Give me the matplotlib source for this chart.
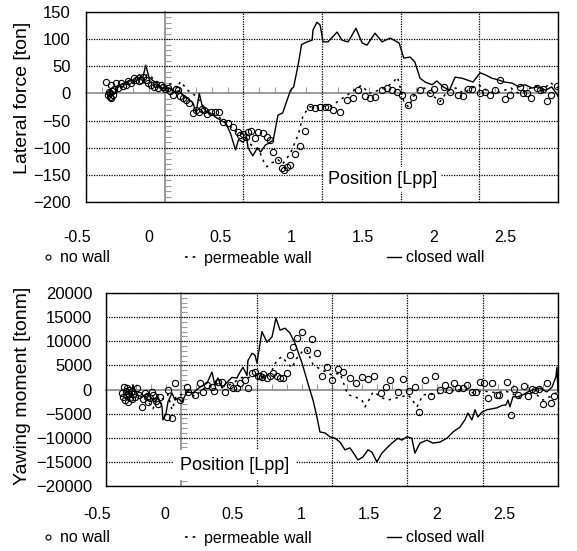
import matplotlib
matplotlib.use("Agg")
import matplotlib.pyplot as plt
from matplotlib.ticker import MultipleLocator, FixedLocator, NullFormatter
from matplotlib.lines import Line2D

plt.rcParams["font.family"] = ["Liberation Sans", "DejaVu Sans"]

# ---------------- data: lateral force [ton] ----------------
lat_nowall_x = [-0.373, -0.36, -0.355, -0.35, -0.345, -0.34, -0.335, -0.341, -0.33, -0.325,
                -0.309, -0.295, -0.278, -0.262, -0.246, -0.23, -0.214, -0.198, -0.182, -0.166,
                -0.15, -0.135, -0.119, -0.103, -0.087, -0.068, -0.055, -0.042, -0.025, -0.01,
                0.005, 0.021, 0.037, 0.053, 0.07, 0.085, 0.10, 0.117, 0.136, 0.155,
                0.18, 0.20, 0.218, 0.235, 0.25, 0.27, 0.295, 0.32, 0.345, 0.371,
                0.403, 0.435, 0.466, 0.479, 0.498, 0.515, 0.53, 0.55, 0.574, 0.593,
                0.625, 0.651, 0.67, 0.689, 0.72, 0.746, 0.76, 0.778, 0.797, 0.829,
                0.86, 0.892, 0.924, 0.956, 0.988, 1.019, 1.038, 1.07, 1.115, 1.159,
                1.197, 1.229, 1.274, 1.305, 1.337, 1.382, 1.414, 1.445, 1.477, 1.509,
                1.547, 1.579, 1.623, 1.687, 1.712, 1.75, 1.776, 1.814, 1.865, 1.897,
                1.929, 1.954, 2.005, 2.037, 2.068, 2.1, 2.132, 2.164, 2.195, 2.259,
                2.278, 2.304, 2.329, 2.367, 2.386, 2.405, 2.431, 2.456, 2.494]
lat_nowall_y = [21, -3, 3, -6, 0, -8, 5, 16, -2, 8,
                19, 10, 19, 14, 16, 22, 20, 28, 25, 22,
                25, 30, 25, 20, 16, 12, 18, 10, 15, 12,
                8, 10, 5, -3, 8, 6, -5, -9, -12, -18,
                -36, -30, -34, -28, -30, -38, -34, -34, -34, -53,
                -55, -62, -71, -77, -75, -80, -71, -70, -82, -71,
                -73, -80, -86, -108, -123, -137, -141, -135, -132, -112,
                -97, -69, -25, -27, -25, -25, -25, -31, -34, -12,
                -9, 6, -5, -9, -7, 6, 10, 6, 2, -3,
                -21, -7, 6, 0, 8, -14, 12, 2, -3, -5,
                8, 8, 0, 2, -3, 6, 25, -10, -3, 12,
                0, 0, -9, 10, 6, 8, -14, -3, 14]

lat_perm_x = [-0.36, -0.33, -0.30, -0.25, -0.20, -0.15, -0.10, -0.05, 0.00, 0.05,
              0.08, 0.10, 0.15, 0.20, 0.25, 0.30, 0.35, 0.40, 0.45, 0.50,
              0.55, 0.60, 0.63, 0.65, 0.68, 0.72, 0.75, 0.80, 0.85, 0.88,
              0.92, 0.98, 1.05, 1.10, 1.15, 1.20, 1.25, 1.30, 1.35, 1.40,
              1.45, 1.48, 1.52, 1.55, 1.60, 1.65, 1.70, 1.75, 1.80, 1.85,
              1.90, 1.95, 2.00, 2.05, 2.10, 2.15, 2.20, 2.25, 2.30, 2.35,
              2.40, 2.45, 2.50]
lat_perm_y = [-10, -15, 5, 15, 25, 30, 35, 20, 15, 18,
              10, 22, 5, -5, -25, -35, -45, -55, -70, -75,
              -95, -105, -126, -135, -128, -122, -130, -110, -75, -40,
              -25, -22, -25, -15, -5, 5, 15, 0, 5, 10,
              20, 30, -15, -25, 5, 10, -3, -15, 5, 10,
              0, 10, 15, 5, 0, 5, 10, 0, 5, 15,
              5, 20, 10]

lat_closed_x = [-0.36, -0.34, -0.32, -0.30, -0.28, -0.25, -0.22, -0.20, -0.18, -0.16,
                -0.14, -0.12, -0.10, -0.08, -0.05, -0.02, 0.00, 0.03, 0.06, 0.09,
                0.12, 0.15, 0.18, 0.20, 0.22, 0.24, 0.27, 0.30, 0.33, 0.36,
                0.39, 0.42, 0.45, 0.47, 0.50, 0.52, 0.53, 0.56, 0.59, 0.61,
                0.64, 0.66, 0.69, 0.72, 0.75, 0.80, 0.82, 0.85, 0.87, 0.905,
                0.937, 0.943, 0.968, 0.988, 1.007, 1.038, 1.096, 1.127, 1.166, 1.216,
                1.255, 1.286, 1.337, 1.382, 1.433, 1.477, 1.49, 1.52, 1.56, 1.59,
                1.623, 1.655, 1.70, 1.73, 1.77, 1.81, 1.846, 1.89, 1.92, 1.96,
                2.005, 2.04, 2.08, 2.12, 2.16, 2.21, 2.25, 2.29, 2.335, 2.37,
                2.42, 2.46, 2.49, 2.50]
lat_closed_y = [-5, 5, 0, 10, 15, 20, 25, 18, 30, 35,
                28, 52, 30, 25, 18, 10, 8, 10, 2, 5,
                -5, -10, -18, -35, 0, -25, -35, -38, -45, -50,
                -55, -75, -104, -85, -90, -80, -100, -115, -100, -108,
                -95, -92, -86, -40, -36, 6, 12, 55, 90, 95,
                98, 117, 131, 126, 95, 95, 113, 98, 95, 120,
                93, 89, 111, 95, 102, 95, 93, 65, 67, 58,
                28, 21, 16, 23, 12, 6, 30, 28, 25, 21,
                38, 34, 28, 25, 21, 19, 12, 16, 10, 12,
                6, 12, 0, -5]

# ---------------- data: yawing moment [tonm] ----------------
yaw_nowall_x = [-0.394, -0.387, -0.38, -0.374, -0.37, -0.365, -0.36, -0.355, -0.35, -0.345,
                -0.34, -0.334, -0.328, -0.32, -0.31, -0.294, -0.28, -0.261, -0.254, -0.241,
                -0.228, -0.221, -0.208, -0.195, -0.188, -0.17, -0.155, -0.14, -0.095, -0.062,
                -0.089, -0.042, -0.009, 0.037, 0.044, 0.091, 0.124, 0.144, 0.17, 0.203,
                0.22, 0.243, 0.27, 0.29, 0.323, 0.343, 0.369, 0.389, 0.422, 0.442,
                0.469, 0.489, 0.509, 0.522, 0.535, 0.542, 0.568, 0.588, 0.608, 0.635,
                0.655, 0.675, 0.701, 0.721, 0.741, 0.767, 0.801, 0.834, 0.867, 0.900,
                0.933, 0.967, 1.000, 1.040, 1.073, 1.119, 1.159, 1.199, 1.239, 1.278,
                1.325, 1.358, 1.385, 1.438, 1.471, 1.511, 1.550, 1.577, 1.617, 1.657,
                1.683, 1.716, 1.750, 1.776, 1.809, 1.836, 1.869, 1.896, 1.929, 1.955,
                1.982, 2.008, 2.035, 2.061, 2.095, 2.108, 2.161, 2.187, 2.207, 2.234,
                2.274, 2.300, 2.327, 2.347, 2.373, 2.400, 2.426, 2.453, 2.473]
yaw_nowall_y = [-700, -1500, 500, -2200, -300, -1200, 300, -2600, -1000, 0,
                -1800, -500, -2000, -1000, -1500, 300, -1200, -3600, -2000, -700,
                -1500, -2600, -1800, -500, -1100, -2400, -3000, -1500, -5700, -5900,
                -100, 1300, -2200, 500, -500, -1100, 1300, -500, 900, 500,
                -300, 1500, 1500, -500, 900, 300, 300, 1300, 1900, 300,
                3400, 3600, 2900, 2700, 2500, 3200, 2400, 2900, 3400, 2900,
                2400, 2400, 3400, 7100, 8800, 10700, 11900, 8200, 10500, 7600,
                2700, 4700, 1900, 4300, 3600, 2400, 1300, 2500, 2200, 2700,
                -700, 500, 1900, -500, 2200, -300, 500, -4700, 1900, -1300,
                2900, -100, 900, 0, 1300, 300, 300, 900, -500, -500,
                1500, 1300, -1800, 1300, -1100, -1100, 1500, -5200, 100, -1100,
                700, -1300, 100, 0, 100, -3000, 1300, -2800, -1300]

yaw_perm_x = [-0.354, -0.321, -0.288, -0.254, -0.221, -0.188, -0.155, -0.122, -0.089, -0.062,
              -0.036, 0.004, 0.044, 0.091, 0.137, 0.190, 0.243, 0.296, 0.349, 0.402,
              0.456, 0.509, 0.555, 0.602, 0.635, 0.668, 0.701, 0.734, 0.767, 0.801,
              0.834, 0.854, 0.874, 0.907, 0.933, 0.967, 1.000, 1.053, 1.086, 1.106,
              1.152, 1.199, 1.219, 1.252, 1.272, 1.305, 1.338, 1.371, 1.418, 1.464,
              1.504, 1.530, 1.564, 1.604, 1.650, 1.716, 1.763, 1.829, 1.896, 1.935,
              2.002, 2.048, 2.095, 2.148, 2.194, 2.247, 2.300, 2.360, 2.400, 2.446,
              2.499]
yaw_perm_y = [-500, 500, -1500, -800, -2500, -4000, -1000, -2000, -1000, -4200,
              -1500, -1000, -500, -1500, 0, 800, 1200, 500, 1500, 2500,
              2500, 3000, 2500, 4000, 6100, 6800, 5500, 4500, 6500, 7800,
              8200, 6600, 5200, 4500, 4100, 3500, 3000, 3400, 500, -1100,
              -1500, -2200, -3600, -1800, -500, -1100, -1800, -2200, -1800, -1500,
              -1100, -2000, -3600, -1100, -1000, -800, -500, -100, 0, -700,
              -300, -500, -700, -300, -800, -1800, -500, -1100, -2200, -1500,
              -500]

yaw_closed_x = [-0.354, -0.334, -0.321, -0.294, -0.261, -0.228, -0.195, -0.175, -0.155, -0.128,
                -0.122, -0.102, -0.089, -0.062, -0.042, -0.022, 0.004, 0.037, 0.077, 0.124,
                0.170, 0.203, 0.223, 0.243, 0.270, 0.303, 0.336, 0.369, 0.389, 0.409,
                0.436, 0.442, 0.469, 0.489, 0.502, 0.535, 0.568, 0.602, 0.628, 0.655,
                0.688, 0.721, 0.754, 0.801, 0.840, 0.874, 0.900, 0.920, 0.953, 0.986,
                1.020, 1.053, 1.086, 1.119, 1.152, 1.172, 1.205, 1.239, 1.265, 1.298,
                1.331, 1.371, 1.398, 1.438, 1.464, 1.497, 1.530, 1.550, 1.584, 1.630,
                1.670, 1.716, 1.763, 1.803, 1.849, 1.882, 1.902, 1.929, 1.949, 1.968,
                1.995, 2.028, 2.061, 2.095, 2.128, 2.154, 2.168, 2.181, 2.201, 2.234,
                2.267, 2.300, 2.333, 2.380, 2.426, 2.460, 2.486, 2.493, 2.500]
yaw_closed_y = [0, -1500, 1000, -1100, -1500, -800, -2000, -2600, -1500, -3600,
                -6300, -5000, -2600, -700, -2200, -1800, -2600, -500, -700, 500,
                1300, 3600, 900, 2400, 300, 1500, 2500, 2400, 3600, 4600,
                2900, 6000, 7500, 7100, 5500, 12000, 9800, 10900, 14800, 12300,
                12700, 11700, 9600, 5500, 1300, -2200, -5700, -8800, -9000, -9800,
                -10100, -10900, -12500, -12100, -13600, -14600, -14000, -12500, -13000, -15000,
                -13200, -11900, -11100, -10100, -10500, -9800, -10100, -13200, -11100, -10500,
                -11100, -10900, -10100, -8800, -7800, -6300, -4900, -6300, -4200, -5700,
                -4700, -4200, -4000, -3800, -3300, -3200, -2200, -3600, -1500, -1500,
                -1100, -500, -100, 300, -500, 500, 2600, 4600, -500]

x_ticks = [-0.5, 0, 0.5, 1, 1.5, 2, 2.5]
x_tick_labels = ["-0.5", "0", "0.5", "1", "1.5", "2", "2.5"]
lat_ticks = [150, 100, 50, 0, -50, -100, -150, -200]
yaw_ticks = [20000, 15000, 10000, 5000, 0, -5000, -10000, -15000, -20000]

legend_labels = ["no wall", "permeable wall", "closed wall"]
ylabel_lat = "Lateral force [ton]"
ylabel_yaw = "Yawing moment [tonm]"
xlabel_text = "Position [Lpp]"

# ---------------- layout helpers ----------------
W, H = 577, 551
fig = plt.figure(figsize=(W / 100, H / 100), dpi=100)
fig.patch.set_facecolor("white")


def rect_px(left, top, right, bottom):
    return [left / W, 1 - bottom / H, (right - left) / W, (bottom - top) / H]


GRAY = "#9a9a9a"
DOT = (0, (1, 1))
PERM_LS = (0, (1.6, 3.0))


def draw_panel(box, lab_left, lab_right, lab_y, ylim, yticks, yminor, ypad,
               nowall, perm, closed, ylabel, ylabel_px, pos_xy, pos_pad, legend_y):
    # zero axes with small tick marks
    az = fig.add_axes(rect_px(*box))
    az.set_xlim(-0.5, 2.5)
    az.set_ylim(*ylim)
    az.patch.set_visible(False)
    az.spines["top"].set_visible(False)
    az.spines["right"].set_visible(False)
    az.spines["left"].set_position(("data", 0))
    az.spines["bottom"].set_position(("data", 0))
    for s in ("left", "bottom"):
        az.spines[s].set_color(GRAY)
        az.spines[s].set_linewidth(1.4)
    az.xaxis.set_major_locator(MultipleLocator(0.1))
    az.yaxis.set_major_locator(MultipleLocator(yminor))
    az.tick_params(direction="in", length=4, width=0.8, color=GRAY,
                   labelbottom=False, labelleft=False)

    # main plotting axes
    ax = fig.add_axes(rect_px(*box))
    ax.patch.set_visible(False)
    ax.set_xlim(-0.5, 2.5)
    ax.set_ylim(*ylim)
    ax.xaxis.set_major_locator(FixedLocator(x_ticks))
    ax.yaxis.set_major_locator(FixedLocator(yticks))
    ax.xaxis.set_major_formatter(NullFormatter())
    ax.tick_params(axis="both", length=0)
    ax.tick_params(axis="y", pad=ypad, labelsize=12)
    ax.grid(True, color="black", linestyle=DOT, linewidth=0.9)
    for t, v in zip(ax.xaxis.get_major_ticks(), x_ticks):
        if v == 0:
            t.gridline.set_visible(False)
    for t, v in zip(ax.yaxis.get_major_ticks(), yticks):
        if v == 0:
            t.gridline.set_visible(False)
    for s in ax.spines.values():
        s.set_color("black")
        s.set_linewidth(1.0)

    ax.plot(perm[0], perm[1], color="black", linestyle=PERM_LS, linewidth=1.1,
            clip_on=True, zorder=3)
    ax.plot(closed[0], closed[1], color="black", linewidth=1.0, zorder=4)
    ax.plot(nowall[0], nowall[1], linestyle="none", marker="o", markersize=4.5,
            markerfacecolor="none", markeredgecolor="black", markeredgewidth=0.8,
            zorder=5)

    ax.text(pos_xy[0], pos_xy[1], xlabel_text, fontsize=13, ha="center",
            va="center", zorder=6,
            bbox=dict(facecolor="white", edgecolor="none", pad=pos_pad))

    # x tick labels row
    axl = fig.add_axes([lab_left / W, 1 - lab_y / H, (lab_right - lab_left) / W, 0.0001])
    axl.set_xlim(-0.5, 2.5)
    axl.patch.set_visible(False)
    for s in axl.spines.values():
        s.set_visible(False)
    axl.yaxis.set_visible(False)
    axl.set_xticks(x_ticks)
    axl.set_xticklabels(x_tick_labels)
    axl.tick_params(axis="x", length=0, pad=2, labelsize=11.5)

    fig.text(ylabel_px[0] / W, 1 - ylabel_px[1] / H, ylabel, rotation=90,
             ha="center", va="center", fontsize=14)

    handles = [
        Line2D([], [], linestyle="none", marker="o", markersize=3.6,
               markerfacecolor="none", markeredgecolor="black", markeredgewidth=0.8),
        Line2D([], [], color="black", linestyle=PERM_LS, linewidth=1.2),
        Line2D([], [], color="black", linewidth=1.0),
    ]
    fig.legend(handles, legend_labels, loc="center", ncol=3, frameon=False,
               bbox_to_anchor=(262.5 / W, 1 - legend_y / H), fontsize=11.5,
               handlelength=0.9, handletextpad=0.3, columnspacing=4.7,
               borderpad=0, borderaxespad=0)
    return ax


draw_panel((86, 12, 558, 202), 77.5, 505, 227, (-200, 150), lat_ticks, 10, 11,
           (lat_nowall_x, lat_nowall_y), (lat_perm_x, lat_perm_y),
           (lat_closed_x, lat_closed_y), ylabel_lat, (23, 98), (1.385, -159), 3,
           258)

draw_panel((106, 293, 558, 486), 97.5, 504, 504, (-20000, 20000), yaw_ticks, 1000, 10,
           (yaw_nowall_x, yaw_nowall_y), (yaw_perm_x, yaw_perm_y),
           (yaw_closed_x, yaw_closed_y), ylabel_yaw, (23, 386), (0.356, -15650), 5,
           538)

fig.savefig("out.png", dpi=100, facecolor="white")
